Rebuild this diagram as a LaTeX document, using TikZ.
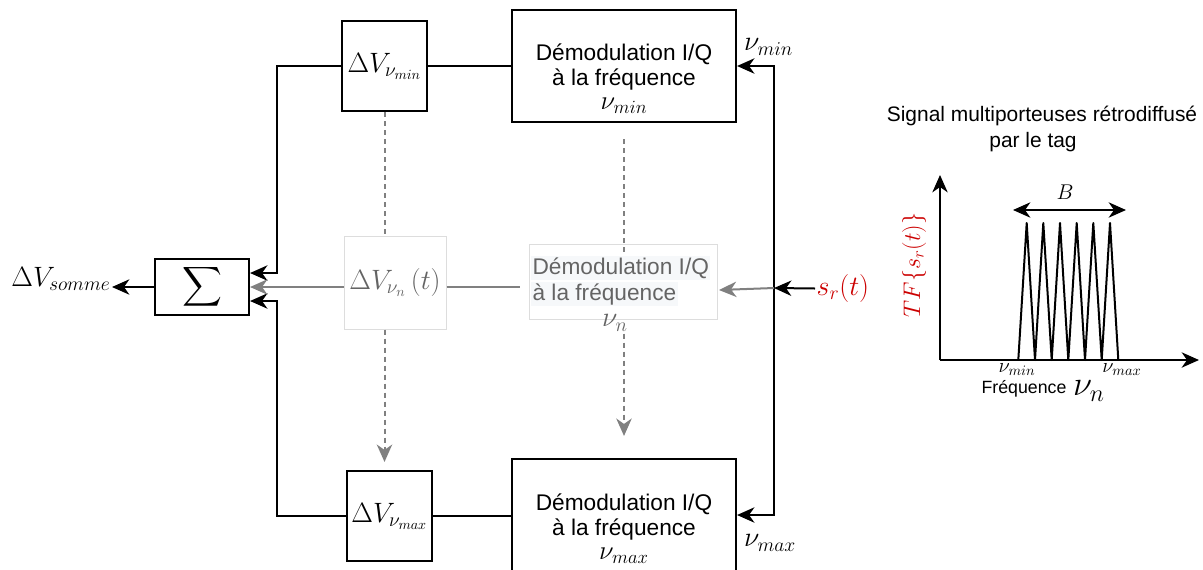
\RequirePackage{fix-cm}
\documentclass[tikz,border=0pt]{standalone}
\usepackage{amsmath}
\usepackage[no-math]{fontspec}
\setmainfont{Liberation Sans}
\usetikzlibrary{arrows.meta,calc}
\definecolor{srred}{RGB}{204,0,0}
\definecolor{lgrey}{RGB}{128,128,128}
\definecolor{tgrey}{RGB}{100,100,100}
\definecolor{bgrey}{RGB}{221,221,221}
\definecolor{hl}{RGB}{246,248,250}
\tikzset{
  tip/.style={-{Stealth[length=13pt,width=11.5pt,inset=4pt]}},
  dtip/.style={{Stealth[length=13pt,width=11.5pt,inset=4pt]}-{Stealth[length=13pt,width=11.5pt,inset=4pt]}},
  blk/.style={draw=black,line width=1.5pt},
  box/.style={draw=black,line width=1.6pt,fill=white,inner sep=0pt},
  gbox/.style={draw=bgrey,line width=0.75pt,fill=white,inner sep=0pt},
  gline/.style={draw=lgrey,line width=1.5pt},
  dline/.style={draw=lgrey,line width=1.5pt,dash pattern=on 3.75pt off 3pt},
  txt/.style={font=\fontsize{17}{18.4}\selectfont,align=center,inner sep=0pt},
  gtxt/.style={font=\fontsize{17}{18.4}\selectfont,text=tgrey,inner xsep=1pt,inner ysep=0pt,minimum height=18.5pt},
  m20/.style={font=\fontsize{21}{24}\selectfont,inner sep=1pt},
}
\newcommand{\mth}[1]{{\fontsize{20}{18.4}\selectfont$#1$}}
\begin{document}
\begin{tikzpicture}[x=0.75pt,y=-0.75pt]
\useasboundingbox (0,0) rectangle (1203,569);
\fill[white] (0,0) rectangle (1203,569);
\begin{scope}
\clip (0,0) rectangle (1203,569);

% --- boxes ---
\node[box,minimum width=168pt,minimum height=84pt] (demodmin) at (624,66) {};
\node[txt] (tmin) at (624,79) {Démodulation I/Q\\à la fréquence\\\mth{\nu_{min}}};
\node[box,minimum width=168pt,minimum height=84pt] (demodmax) at (624,515) {};
\node[txt] (tmax) at (624,529) {Démodulation I/Q\\à la fréquence\\\mth{\nu_{max}}};

\node[box,minimum width=63.75pt,minimum height=67.5pt,font=\fontsize{21}{24}\selectfont] (dvmin) at (384.5,66) {$\Delta V_{\nu_{min}}$};
\node[box,minimum width=63.75pt,minimum height=67.5pt,font=\fontsize{21}{24}\selectfont] (dvmax) at (389.5,516) {$\Delta V_{\nu_{max}}$};

\node[box,minimum width=70.5pt,minimum height=42pt] (sigma) at (202,287) {\fontsize{22}{24}\selectfont$\displaystyle\sum$};
\node[m20,anchor=east] (somme) at (112,279) {$\Delta V_{somme}$};

\node[gbox,minimum width=76.5pt,minimum height=69.75pt,text=tgrey,font=\fontsize{21}{24}\selectfont] (dvn) at (395,282.5) {$\Delta V_{\nu_n}\left(t\right)$};
\node[gbox,minimum width=141pt,minimum height=56.25pt] (demodn) at (623,281.5) {};

% --- dashed grey links ---
\draw[dline] (dvmin.south) -- (dvmin.south |- dvn.north);
\draw[dline,tip] (dvmin.south |- dvn.south) -- ($(dvmin.south |- dvmax.north)+(0,-8)$);
\draw[dline] ($(demodmin.south)+(0,16)$) -- ($(demodmin.south |- demodn.north)+(0,11)$);
\draw[dline,tip] ($(demodmin.south |- demodn.south)+(0,14)$) -- ($(demodmax.north)+(0,-22)$);

% --- grey demod n text ---
\node[gtxt,fill=hl,anchor=west] (dn1) at (531,268) {Démodulation I/Q};
\node[gtxt,fill=hl,anchor=west] (dn2) at (531,294) {à la fréquence\hspace{6pt}};
\node[m20,text=tgrey] (nun) at (615,323) {$\nu_n$};

% --- right input bus ---
\coordinate (srin) at (774,288);
\coordinate (ntip) at (719,290);
\coordinate (gend) at (520,287);
\node[m20,text=srred,anchor=west] (sr) at (815,288.5) {$s_r(t)$};
\draw[blk,tip] (sr.west) -- (srin);
\draw[blk,tip] (srin) |- (demodmin.east);
\draw[blk,tip] (srin) |- (demodmax.east);
\draw[gline,tip] (srin) -- (ntip);
\node[m20] (lnumin) at (768.5,47) {$\nu_{min}$};
\node[m20] (lnumax) at (770,543) {$\nu_{max}$};

% --- links between blocks ---
\draw[blk] (dvmin.east) -- (demodmin.west);
\draw[blk] (dvmax.east) -- (dvmax.east -| demodmax.west);
\draw[gline] (dvn.east |- sigma.east) -- (gend);

% --- summation ---
\coordinate (ltop) at (277,273);
\coordinate (lbot) at (277,301);
\draw[blk,tip] (dvmin.west) -| (ltop) -- (ltop -| sigma.east);
\draw[blk,tip] (dvmax.west) -| (lbot) -- (lbot -| sigma.east);
\draw[gline,tip] (dvn.west |- sigma.east) -- (sigma.east);
\draw[blk,tip] (sigma.west) -- (sigma.west -| somme.east);

% --- spectrum plot ---
\node[font=\fontsize{15.7}{18}\selectfont] (title1) at (1042,116) {Signal multiporteuses rétrodiffusé};
\node[font=\fontsize{15.7}{18}\selectfont] (title2) at (1033,142) {par le tag};
\coordinate (O) at (940,360);
\coordinate (yend) at (940,175);
\coordinate (xend) at (1199,360);
\draw[blk,tip] (O) -- (yend);
\draw[blk,tip] (O) -- (xend);
\draw[blk,line join=round] (1018.3,360) -- (1026.7,223) -- (1035,360) -- (1043.3,223) -- (1051.7,360) -- (1060,223) -- (1068.3,360) -- (1076.7,223) -- (1085,360) -- (1093.3,223) -- (1101.7,360) -- (1110,223) -- (1118.3,360);
\coordinate (bl) at (1013,210);
\coordinate (br) at (1126,210);
\draw[blk,dtip] (bl) -- (br);
\node[font=\fontsize{16}{18}\selectfont] (Blab) at (1065,192) {$B$};
\node[text=srred,rotate=90,font=\fontsize{18}{20}\selectfont] (tf) at (914,265) {$TF\{s_r(t)\}$};
\node[font=\fontsize{15.4}{17}\selectfont,inner sep=0pt] (pmin) at (1017,370) {$\nu_{min}$};
\node[font=\fontsize{15.4}{17}\selectfont,inner sep=0pt] (pmax) at (1122,370) {$\nu_{max}$};
\node[font=\fontsize{13.3}{15}\selectfont,inner sep=0pt] (freq) at (1024,389) {Fréquence};
\node[font=\fontsize{26}{29}\selectfont,inner sep=0pt] (pnun) at (1089,391) {$\nu_n$};
\end{scope}
\end{tikzpicture}
\end{document}
